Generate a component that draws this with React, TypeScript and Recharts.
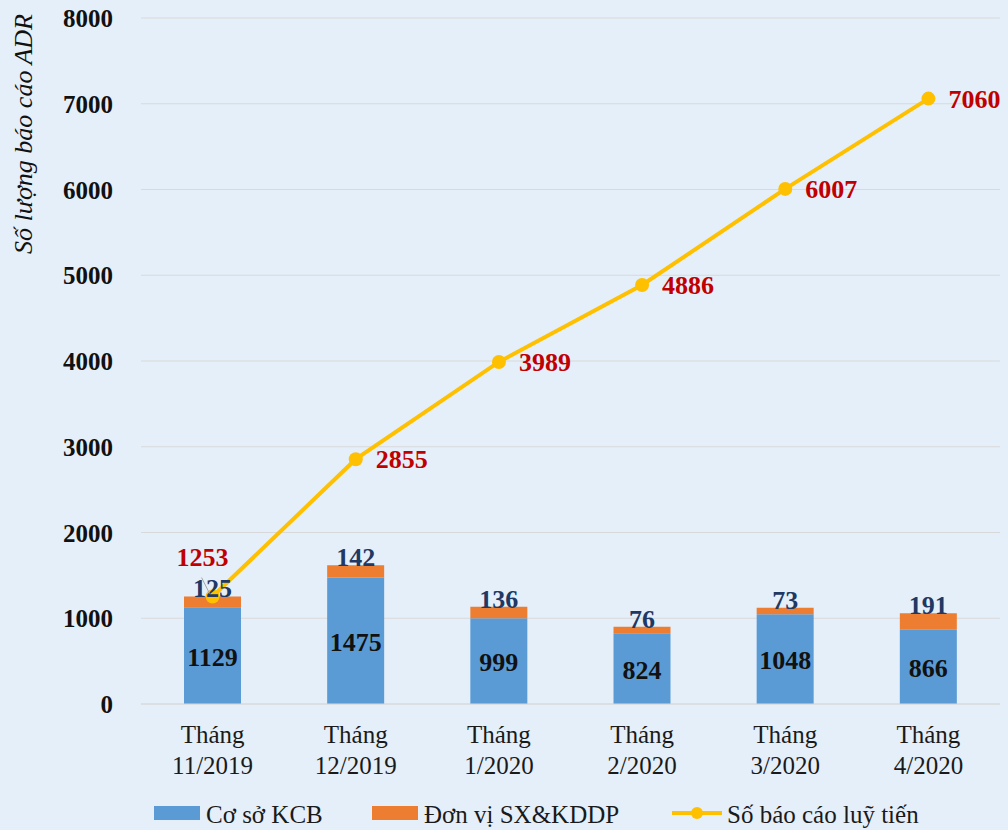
import React from 'react';
import { ComposedChart, Bar, Line, XAxis, YAxis, CartesianGrid, Legend, LabelList } from 'recharts';

const months = ['11/2019', '12/2019', '1/2020', '2/2020', '3/2020', '4/2020'];
const coSoKCB = [1129, 1475, 999, 824, 1048, 866];
const donViSX = [125, 142, 136, 76, 73, 191];
const luyTien = [1253, 2855, 3989, 4886, 6007, 7060];
const yTicks = [0, 1000, 2000, 3000, 4000, 5000, 6000, 7000, 8000];

const data = months.map((m, i) => ({
  month: m,
  kcb: coSoKCB[i],
  sx: donViSX[i],
  total: luyTien[i],
}));

const FONT = '"Liberation Serif", "Times New Roman", serif';
const BLUE = '#5b9bd5';
const ORANGE = '#ed7d31';
const GOLD = '#ffc000';

const MonthTick = (props: any) => {
  const { x, y, payload } = props;
  return (
    <g style={{ fontFamily: FONT }} fontSize={25} fill="#1a1a1a" textAnchor="middle">
      <text x={x} y={y + 31}>Tháng</text>
      <text x={x} y={y + 62}>{payload.value}</text>
    </g>
  );
};

const YTick = (props: any) => {
  const { x, y, payload } = props;
  return (
    <text x={x} y={y + 9} textAnchor="end" style={{ fontFamily: FONT }} fontSize={25} fontWeight="bold" fill="#111111">
      {payload.value}
    </text>
  );
};

const TotalLabel = (props: any) => {
  const { x, y, value, index } = props;
  if (index === 0) {
    return (
      <g>
        <line x1={x - 11} y1={y - 19} x2={x - 3} y2={y - 3} stroke="#a6a6a6" strokeWidth={1} />
        <text x={x - 10} y={y - 31} textAnchor="middle" style={{ fontFamily: FONT }} fontSize={26} fontWeight="bold" fill="#c00000">
          {value}
        </text>
      </g>
    );
  }
  return (
    <text x={x + 20} y={y + 9} textAnchor="start" style={{ fontFamily: FONT }} fontSize={26} fontWeight="bold" fill="#c00000">
      {value}
    </text>
  );
};

const SxLabel = (props: any) => {
  const { x, y, width, value } = props;
  return (
    <text x={x + width / 2} y={y + 1} textAnchor="middle" style={{ fontFamily: FONT }} fontSize={26} fontWeight="bold" fill="#203864">
      {value}
    </text>
  );
};

const KcbLabel = (props: any) => {
  const { x, y, width, height, value } = props;
  return (
    <text x={x + width / 2} y={y + height / 2 + 10} textAnchor="middle" style={{ fontFamily: FONT }} fontSize={26} fontWeight="bold" fill="#111111">
      {value}
    </text>
  );
};

const YTitle = () => (
  <text
    x={32}
    y={134}
    transform="rotate(-90 32 134)"
    textAnchor="middle"
    style={{ fontFamily: FONT }}
    fontSize={26}
    fontStyle="italic"
    fill="#111111"
  >
    Số lượng báo cáo ADR
  </text>
);

const LegendBox = () => (
  <svg width={1008} height={46} style={{ display: 'block' }}>
    <g style={{ fontFamily: FONT }} fontSize={25} fill="#1a1a1a">
      <rect x={154} y={22} width={46} height={14} fill={BLUE} />
      <text x={206} y={39}>Cơ sở KCB</text>
      <rect x={372} y={22} width={46} height={14} fill={ORANGE} />
      <text x={424} y={39}>Đơn vị SX&amp;KDDP</text>
      <line x1={672} y1={29} x2={722} y2={29} stroke={GOLD} strokeWidth={4} />
      <circle cx={697} cy={29} r={6} fill={GOLD} />
      <text x={727} y={39}>Số báo cáo luỹ tiến</text>
    </g>
  </svg>
);

export default function App() {
  return (
    <div style={{ position: 'absolute', left: 0, top: 0, width: 1008, height: 830, background: '#e5eff9', fontFamily: FONT }}>
      <ComposedChart
        width={1008}
        height={830}
        data={data}
        margin={{ top: 18, right: 8, left: 0, bottom: 0 }}
        barSize={57}
      >
        <CartesianGrid stroke="#d9d9d9" vertical={false} />
        <XAxis
          dataKey="month"
          tick={<MonthTick />}
          tickLine={false}
          axisLine={{ stroke: '#d9d9d9' }}
          height={80}
          interval={0}
        />
        <YAxis
          width={141}
          domain={[0, 8000]}
          ticks={yTicks}
          tickLine={false}
          axisLine={false}
          tickMargin={22}
          tick={<YTick />}
          label={{ content: () => <YTitle /> }}
        />
        <Legend verticalAlign="bottom" height={46} content={() => <LegendBox />} />
        <Bar dataKey="kcb" stackId="a" fill={BLUE} isAnimationActive={false} name="Cơ sở KCB">
          <LabelList dataKey="kcb" content={<KcbLabel />} />
        </Bar>
        <Bar dataKey="sx" stackId="a" fill={ORANGE} isAnimationActive={false} name="Đơn vị SX&KDDP">
          <LabelList dataKey="sx" content={<SxLabel />} />
        </Bar>
        <Line
          dataKey="total"
          stroke={GOLD}
          strokeWidth={4}
          dot={{ r: 7, fill: GOLD, stroke: GOLD, strokeWidth: 0 }}
          isAnimationActive={false}
          name="Số báo cáo luỹ tiến"
        >
          <LabelList dataKey="total" content={<TotalLabel />} />
        </Line>
      </ComposedChart>
    </div>
  );
}
